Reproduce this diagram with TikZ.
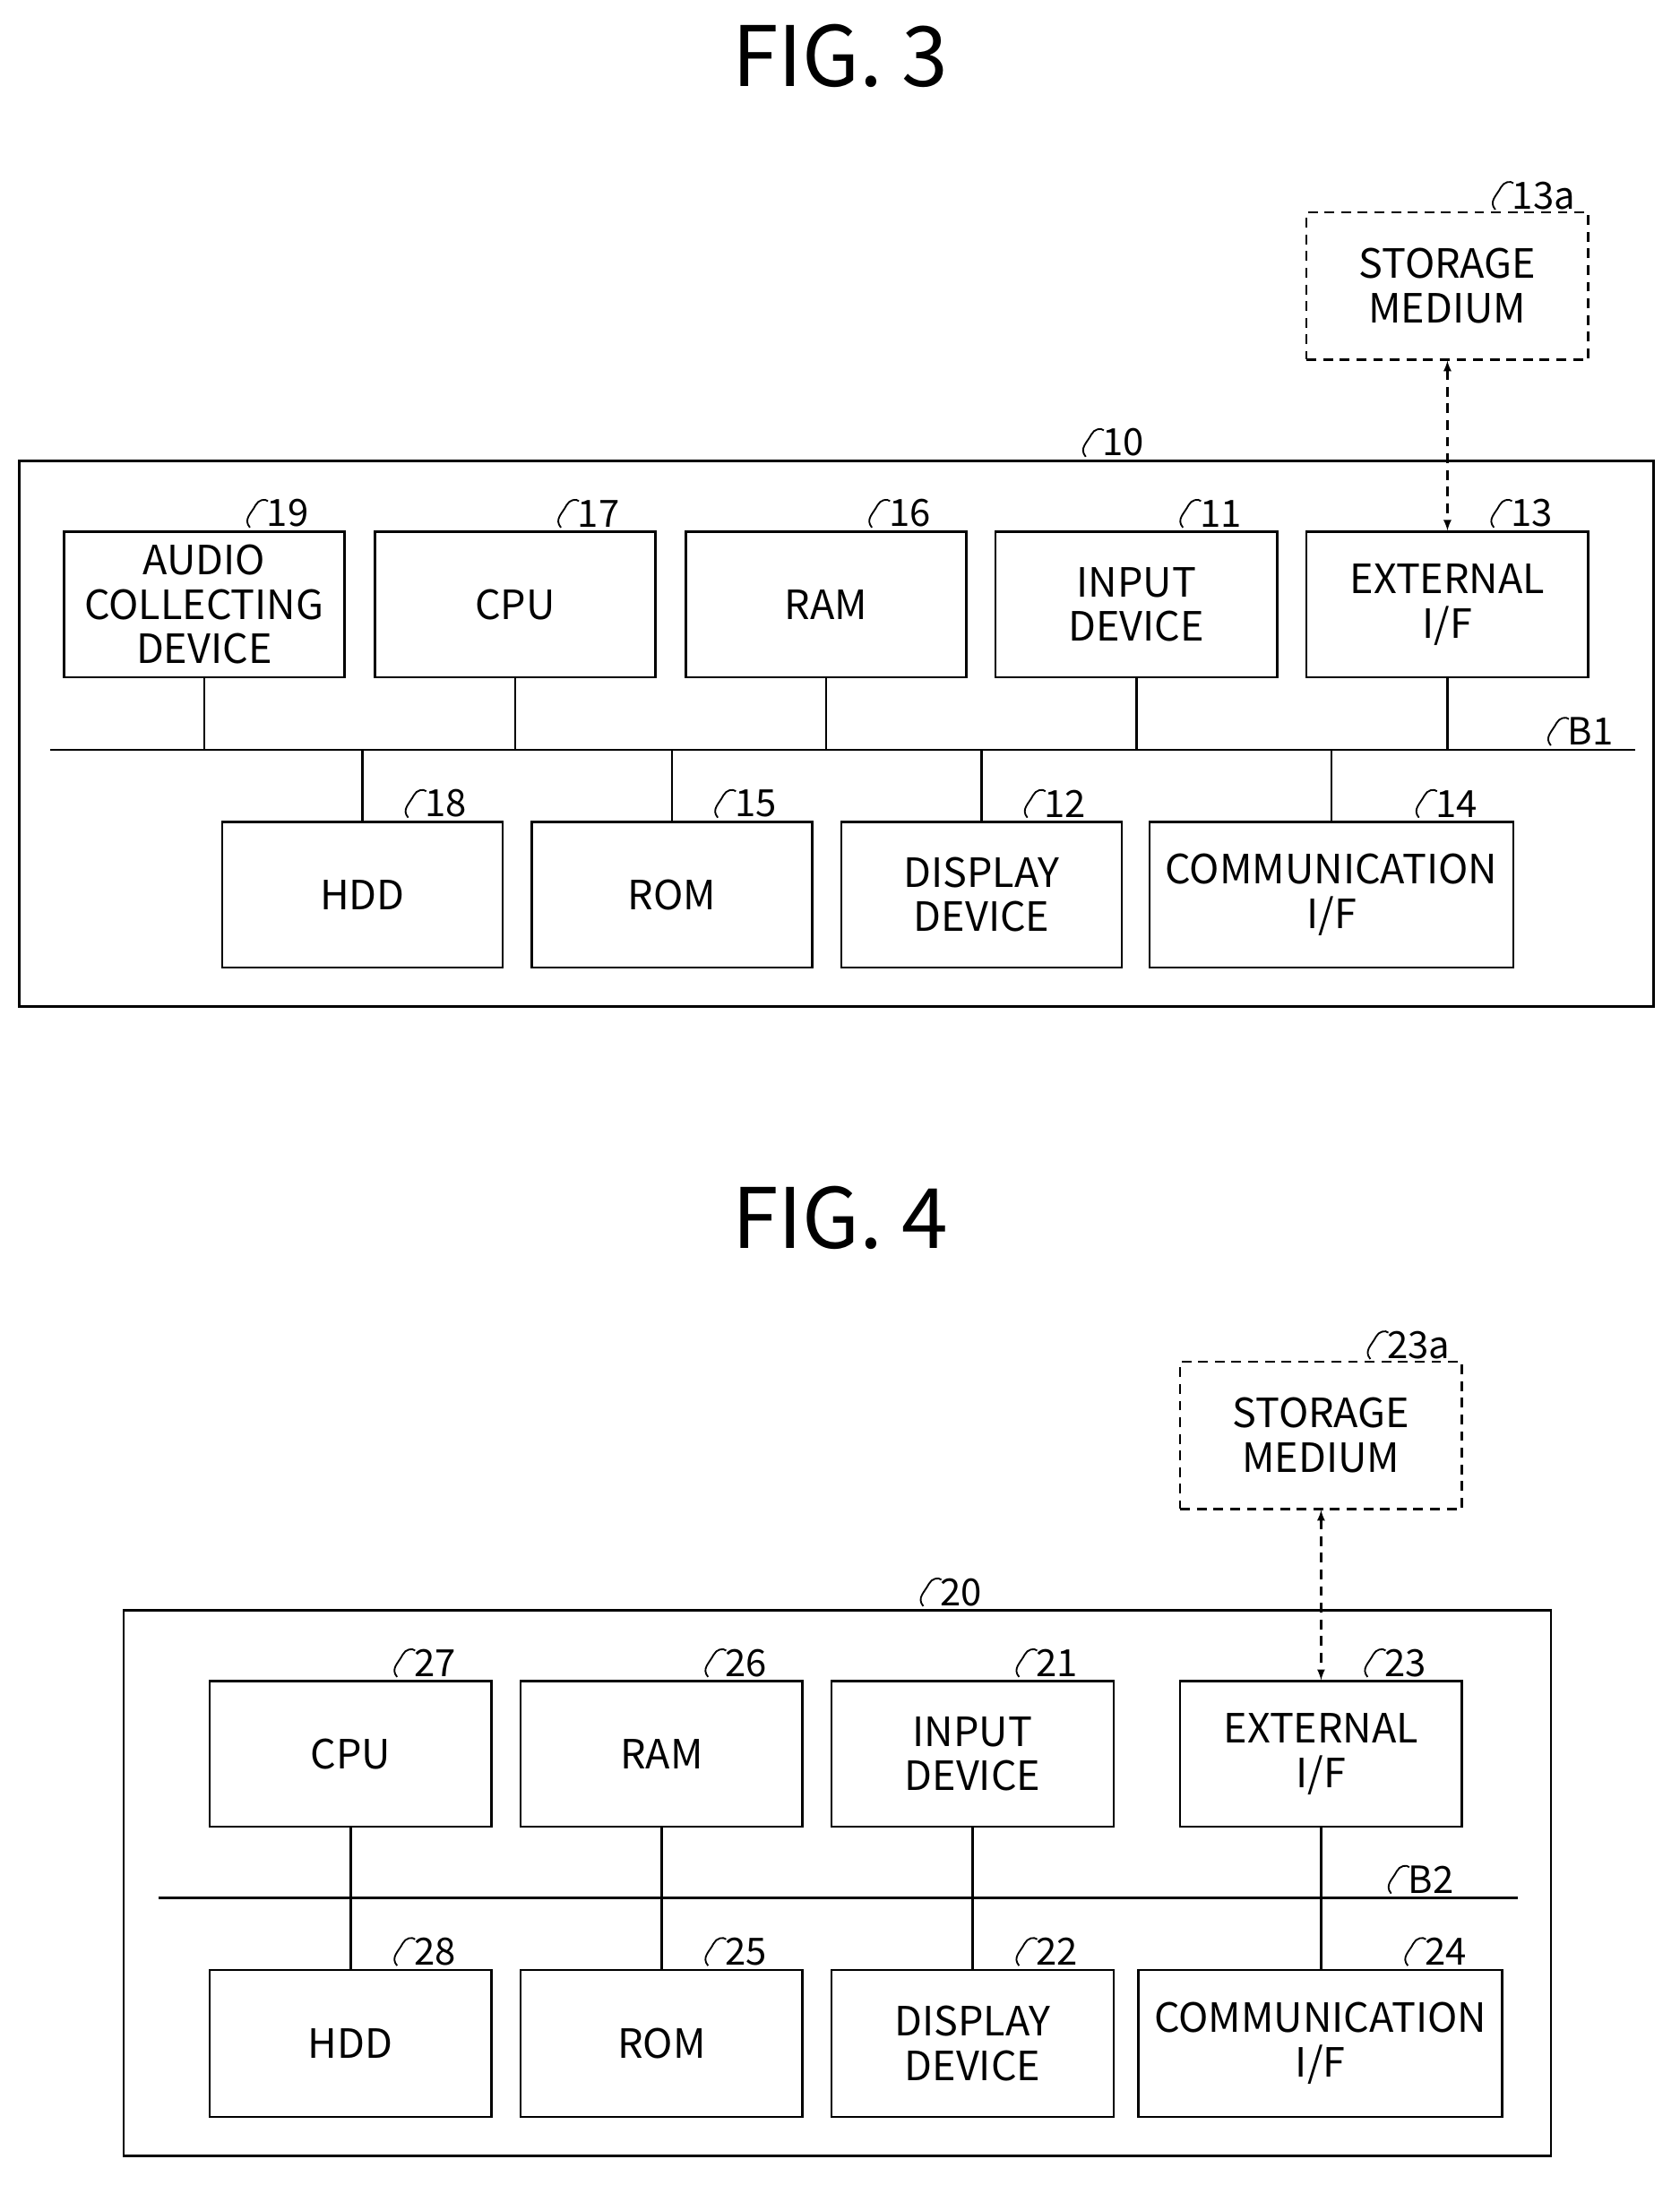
\documentclass[tikz,border=0pt]{standalone}
\usepackage{fontspec}
\setmainfont{Noto Sans CJK JP}
\begin{document}
\begin{tikzpicture}[x=1pt,y=-1pt,
 box/.style={draw,line width=1.6pt,align=center,font=\fontsize{29}{32}\selectfont,inner sep=0},
 dbox/.style={box,dashed,dash pattern=on 7pt off 5pt},
 ln/.style={line width=1.6pt},
 num/.style={font=\fontsize{27}{28}\selectfont,anchor=south west,inner sep=0}]
\useasboundingbox (0,0) rectangle (1210,1574);
\newcommand{\mybox}[6][box]{\node[#1,minimum width=#4-#2,minimum height=#5-#3] (#6) at ({(#2+#4)/2},{(#3+#5)/2}) {};}
\newcommand{\tag}[3]{\draw[line width=1.2pt] (#1-3,#2+4) .. controls (#1-8,#2-2) and (#1-2,#2-6) .. (#1+1,#2-12) .. controls (#1+3,#2-16) and (#1+8,#2-17) .. (#1+10,#2-15);
 \node[num] at (#1+9,#2+4) {#3};}
% FIG 3
\node[font=\fontsize{60}{64}\selectfont] (t3) at (605,40) {FIG. 3};
\mybox{14}{332}{1191}{725}{o10}
\tag{785}{325}{10}
\mybox[dbox]{941}{153}{1144}{259}{s13a} \node[box,draw=none] at (s13a) {STORAGE\\MEDIUM};
\tag{1080}{147}{13a}
\foreach \a/\b/\n/\t/\lab in {46/248/19/{AUDIO\\COLLECTING\\DEVICE}/19,270/472/17/CPU/17,494/696/16/RAM/16,717/920/11/{INPUT\\DEVICE}/11,941/1144/13/{EXTERNAL\\I/F}/13}{
 \mybox{\a}{383}{\b}{488}{n\n}
 \node[box,draw=none] at (n\n) {\t};
 \tag{\b-65}{376}{\lab}
 \draw[ln] (n\n.south) -- ++(0,52);}
\foreach \a/\b/\n/\t in {160/362/18/HDD,383/585/15/ROM,606/808/12/{DISPLAY\\DEVICE},828/1090/14/{COMMUNICATION\\I/F}}{
 \mybox{\a}{592}{\b}{697}{n\n}
 \node[box,draw=none] at (n\n) {\t};
 \tag{\b-65}{585}{\n}
 \draw[ln] (n\n.north) -- ++(0,-52);}
\coordinate (b1l) at (36,540); \coordinate (b1r) at (1178,540);
\draw[ln] (b1l) -- (b1r);
\tag{1120}{533}{B1}
\draw[ln,dashed,dash pattern=on 7pt off 5pt,<->,>=latex] (s13a.south) -- (n13.north);
% FIG 4
\node[font=\fontsize{60}{64}\selectfont] (t4) at (605,877) {FIG. 4};
\mybox{89}{1160}{1117}{1553}{o20}
\tag{668}{1153}{20}
\mybox[dbox]{850}{981}{1053}{1087}{s23a} \node[box,draw=none] at (s23a) {STORAGE\\MEDIUM};
\tag{990}{975}{23a}
\foreach \a/\b/\n/\t/\m/\u/\c/\d in {151/354/27/CPU/28/HDD/151/354,375/578/26/RAM/25/ROM/375/578,599/802/21/{INPUT\\DEVICE}/22/{DISPLAY\\DEVICE}/599/802,850/1053/23/{EXTERNAL\\I/F}/24/{COMMUNICATION\\I/F}/820/1082}{
 \mybox{\a}{1211}{\b}{1316}{n\n}
 \node[box,draw=none] at (n\n) {\t};
 \tag{\b-65}{1204}{\n}
 \mybox{\c}{1419}{\d}{1525}{n\m}
 \node[box,draw=none] at (n\m) {\u};
 \tag{\d-65}{1412}{\m}
 \draw[ln] (n\n.south) -- (n\n.south |- n\m.north);}
\coordinate (b2l) at (114,1367); \coordinate (b2r) at (1093,1367);
\draw[ln] (b2l) -- (b2r);
\tag{1005}{1360}{B2}
\draw[ln,dashed,dash pattern=on 7pt off 5pt,<->,>=latex] (s23a.south) -- (n23.north);
\end{tikzpicture}
\end{document}
